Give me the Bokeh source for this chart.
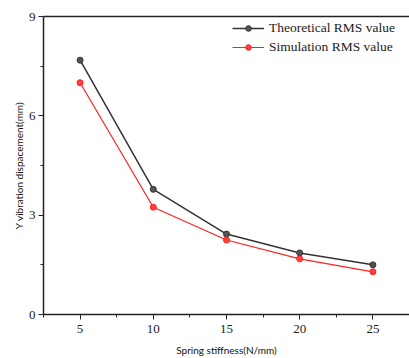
from bokeh.plotting import figure
from bokeh.models import SingleIntervalTicker, LinearAxis, Range1d, FixedTicker
from bokeh.embed import file_html
from bokeh.resources import INLINE

stiffness = [5, 10, 15, 20, 25]
theoretical = [7.68, 3.78, 2.43, 1.86, 1.50]
simulation = [7.00, 3.24, 2.25, 1.68, 1.29]

p = figure(width=409, height=358, output_backend="svg", toolbar_location=None,
           x_range=Range1d(2.5, 27.5), y_range=Range1d(0, 9),
           min_border_left=43, min_border_right=0, min_border_top=16, min_border_bottom=42)
p.outline_line_color = None
p.xgrid.visible = False
p.ygrid.visible = False
p.background_fill_color = "white"

p.xaxis.ticker = SingleIntervalTicker(interval=5, num_minor_ticks=2)
p.yaxis.ticker = SingleIntervalTicker(interval=3, num_minor_ticks=2)
for ax in (p.xaxis, p.yaxis):
    ax.axis_line_color = "#222222"
    ax.axis_line_width = 1.5
    ax.major_tick_in = 0
    ax.major_tick_out = 5
    ax.minor_tick_in = 0
    ax.minor_tick_out = 3
    ax.major_tick_line_color = "#222222"
    ax.minor_tick_line_color = "#222222"
    ax.major_label_text_font = "Liberation Serif"
    ax.major_label_text_font_size = "13px"
    ax.major_label_text_color = "#222222"
    ax.axis_label_text_font = "Lato"
    ax.axis_label_text_font_size = "10px"
    ax.axis_label_text_font_style = "normal"
    ax.axis_label_text_color = "#111111"
p.xaxis.axis_label = "Spring stiffness(N/mm)"
p.yaxis.axis_label = "Y vibration dispacement(mm)"
p.xaxis.axis_label_standoff = 8
p.yaxis.axis_label_standoff = 1
p.xaxis.major_label_standoff = 5
p.yaxis.major_label_standoff = 3

top = LinearAxis(ticker=FixedTicker(ticks=[]), major_tick_line_color=None,
                 minor_tick_line_color=None, axis_line_width=1.5,
                 axis_line_color="#222222")
p.add_layout(top, "above")

p.line(stiffness, theoretical, color="#333333", line_width=1.5, legend_label="Theoretical RMS value")
p.scatter(stiffness, theoretical, size=6, fill_color="#555555", line_color="#333333",
          legend_label="Theoretical RMS value")
p.line(stiffness, simulation, color="#ff2020", line_width=1.2, legend_label="Simulation RMS value")
p.scatter(stiffness, simulation, size=6, fill_color="#ff4040", line_color="#ff2020",
          legend_label="Simulation RMS value")

p.legend.location = "top_right"
p.legend.border_line_color = None
p.legend.background_fill_alpha = 0
p.legend.label_text_font = "Liberation Serif"
p.legend.label_text_font_size = "13.5px"
p.legend.label_text_color = "#222222"
p.legend.glyph_width = 32
p.legend.glyph_height = 14
p.legend.spacing = 3
p.legend.padding = 4
p.legend.margin = 4
p.legend.label_standoff = 5
p.legend.label_height = 14
p.legend.label_width = 136

open("out.html", "w").write(file_html(p, INLINE))
